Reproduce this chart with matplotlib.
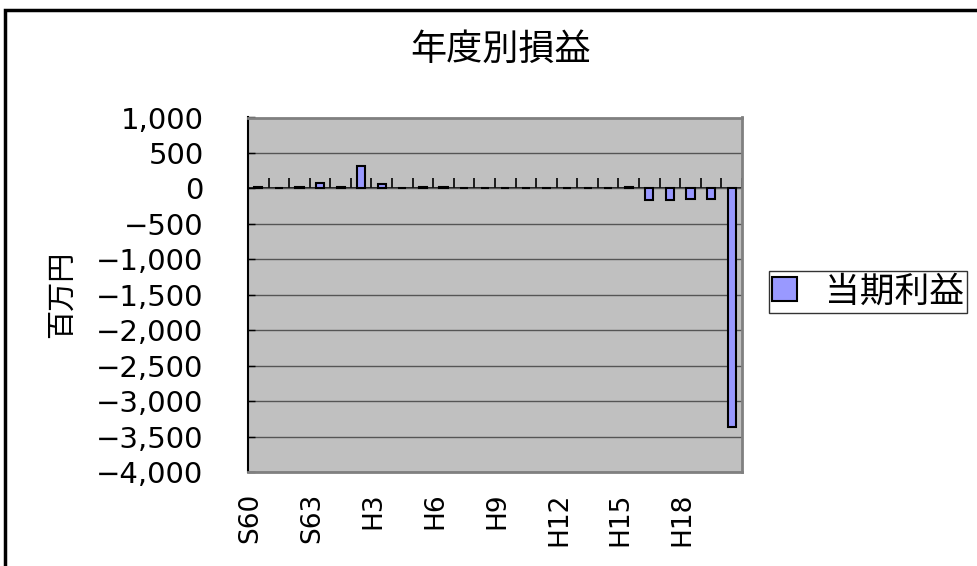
import matplotlib
matplotlib.use("Agg")
import matplotlib.pyplot as plt
import matplotlib.transforms as mtransforms
from matplotlib.patches import Rectangle
import numpy as np

# Fiscal years S60 .. S63, H1 .. H20
years = ["S60", "S61", "S62", "S63"] + [f"H{i}" for i in range(1, 21)]
# 当期利益 (百万円)
profit = [20, 0, 20, 70, 20, 315, 65, 0, 20, 20,
          0, 0, 0, 0, 0, 0, 0, 0,
          20, -170, -165, -145, -145, -3370]

title = "年度別損益"
ylabel = "百万円"
series_label = "当期利益"
yticks = np.arange(-4000, 1001, 500)

JP = ["Noto Sans CJK JP", "DejaVu Sans"]
plt.rcParams["font.family"] = ["DejaVu Sans", "Noto Sans CJK JP"]

W, H = 977, 566
fig = plt.figure(figsize=(W / 100, H / 100), dpi=100)
ax = fig.add_axes([248 / W, 1 - 472 / H, (742 - 248) / W, (472 - 117.5) / H])

x = np.arange(len(years))
ax.bar(x, profit, width=0.4, color="#9999FF", edgecolor="black",
       linewidth=1.5, label=series_label, zorder=3)

ymin, ymax = yticks[0], yticks[-1]
ax.set_xlim(-0.5, len(years) - 0.5)
ax.set_ylim(ymin, ymax)

ax.set_facecolor("#C0C0C0")
ax.set_yticks(yticks)
ax.set_yticklabels([f"{v:,}".replace("-", "\u2212") for v in yticks], fontsize=21)
ax.yaxis.grid(True, color="#555555", linewidth=1.0, zorder=1)
ax.set_axisbelow(True)
ax.tick_params(axis="y", direction="in", length=5, width=1, pad=32, color="black")

ax.set_xticks(x[::3])
ax.set_xticklabels(years[::3], rotation=90, fontsize=19, va="top", ha="center")
ax.tick_params(axis="x", length=0, pad=15)
shift = mtransforms.ScaledTranslation(-0.08, 0, fig.dpi_scale_trans)
for lbl in ax.get_xticklabels():
    lbl.set_transform(lbl.get_transform() + shift)

for side in ("top", "right", "bottom"):
    ax.spines[side].set_color("#808080")
    ax.spines[side].set_linewidth(2)
ax.spines["left"].set_color("black")
ax.spines["left"].set_linewidth(1.5)

# category axis drawn across the zero line, ticks between categories
zero_pos = (0 - ymin) / (ymax - ymin)
sec = ax.secondary_xaxis(zero_pos)
sec.set_xticks(np.arange(len(years) + 1) - 0.5)
sec.tick_params(axis="x", direction="out", length=7, width=1.2,
                color="black", labelbottom=False, labeltop=False)
for sp in sec.spines.values():
    sp.set_color("black")
    sp.set_linewidth(1.2)

ax.set_ylabel(ylabel, family=JP, fontsize=21, labelpad=14)

fig.text(501 / W, 1 - 50 / H, title, family=JP, fontsize=26,
         ha="center", va="center")

leg = fig.legend(loc="upper left", bbox_to_anchor=(769 / W, 1 - 271 / H),
                 prop={"family": JP, "size": 25}, frameon=True, fancybox=False,
                 handlelength=0.7, handleheight=0.7, handletextpad=0.8,
                 borderpad=0.1, borderaxespad=0)
leg.get_frame().set_edgecolor("black")
leg.get_frame().set_linewidth(1.0)

# chart border
fig.add_artist(Rectangle((5 / W, -0.1), 1.2, 1.1 - 10 / H,
                         transform=fig.transFigure, fill=False,
                         edgecolor="black", linewidth=2.5))

fig.savefig("out.png", dpi=100, facecolor="white")
